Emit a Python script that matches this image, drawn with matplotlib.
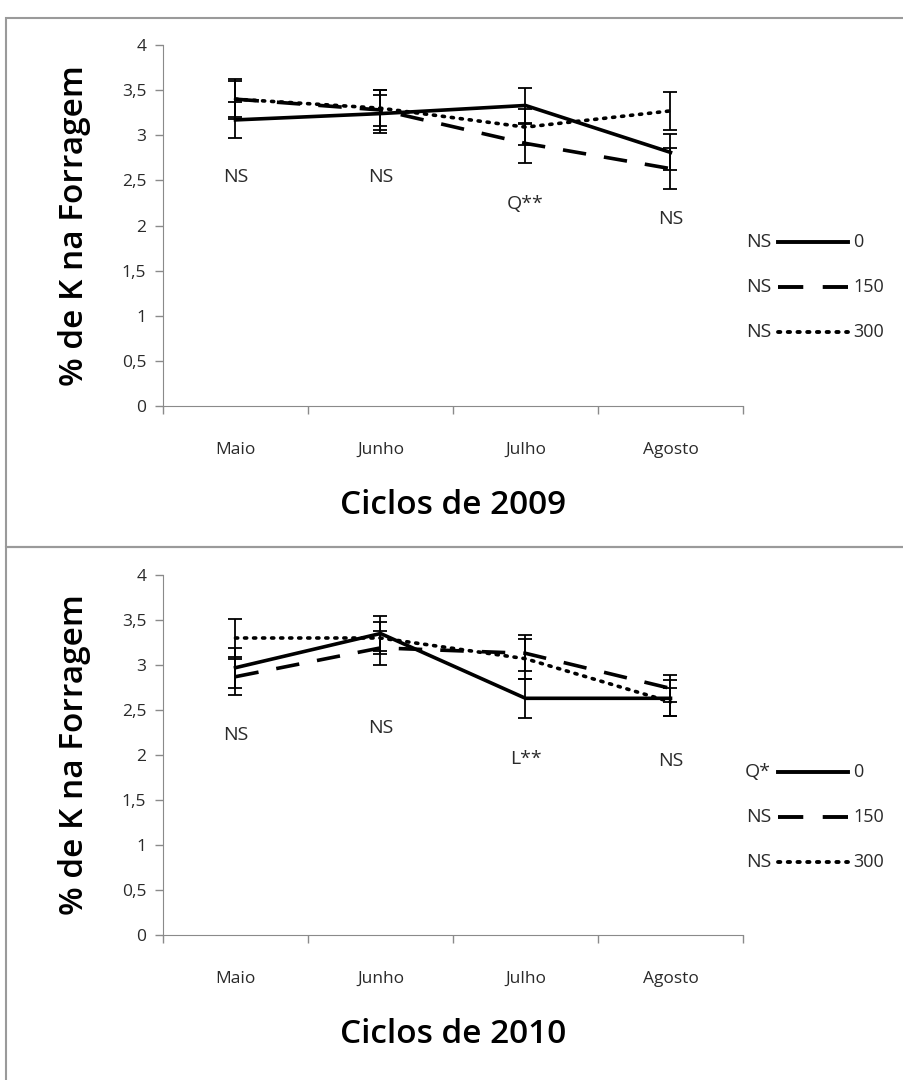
import matplotlib
matplotlib.use("Agg")
import matplotlib.pyplot as plt
from matplotlib.lines import Line2D
from matplotlib.patches import Rectangle

plt.rcParams['font.family'] = ['Open Sans', 'DejaVu Sans']

# categories (months)
meses = ['Maio', 'Junho', 'Julho', 'Agosto']
doses = ['0', '150', '300']

# 2009 cycle values (% K) and error bars
k2009_0 = [3.17, 3.24, 3.33, 2.81]
k2009_150 = [3.40, 3.28, 2.91, 2.63]
k2009_300 = [3.40, 3.30, 3.09, 3.27]
err2009_0 = [0.20, 0.21, 0.19, 0.20]
err2009_150 = [0.22, 0.22, 0.22, 0.23]
err2009_300 = [0.20, 0.20, 0.20, 0.21]
sig2009 = ['NS', 'NS', 'Q**', 'NS']
sig2009_y = [2.54, 2.54, 2.24, 2.07]
leg2009 = ['NS', 'NS', 'NS']

# 2010 cycle values (% K) and error bars
k2010_0 = [2.97, 3.35, 2.63, 2.63]
k2010_150 = [2.87, 3.19, 3.13, 2.74]
k2010_300 = [3.30, 3.30, 3.07, 2.59]
err2010_0 = [0.22, 0.19, 0.22, 0.20]
err2010_150 = [0.20, 0.19, 0.20, 0.15]
err2010_300 = [0.21, 0.18, 0.22, 0.16]
sig2010 = ['NS', 'NS', 'L**', 'NS']
sig2010_y = [2.22, 2.30, 1.96, 1.93]
leg2010 = ['Q*', 'NS', 'NS']

W, H = 904, 1080
fig = plt.figure(figsize=(W / 100, H / 100), dpi=100)

# panel frames
for (y0, y1) in [(18, 547), (547, 1085)]:
    fig.patches.append(Rectangle((6 / W, 1 - y1 / H), (W + 10 - 6) / W, (y1 - y0) / H,
                                 transform=fig.transFigure, fill=False,
                                 edgecolor='#9a9a9a', linewidth=1.5))

styles = [
    dict(linestyle='-'),
    dict(linestyle=(0, (6.5, 5.0))),
    dict(linestyle=(0, (0.6, 1.9)), dash_capstyle='round'),
]
txt = '#2a2a2a'


def draw_panel(top_px, bottom_px, series, errs, sig, sig_y, leg_sig, year, leg_top):
    ax = fig.add_axes([163 / W, 1 - bottom_px / H, (743 - 163) / W, (bottom_px - top_px) / H])
    x = range(len(meses))
    for vals, err, st in zip(series, errs, styles):
        ax.errorbar(x, vals, yerr=err, color='black', linewidth=2.6, elinewidth=1.3,
                    capsize=5, capthick=1.3, **st)
    for xi, s, yy in zip(x, sig, sig_y):
        ax.text(xi, yy, s, ha='center', va='center', fontsize=14, color=txt)
    ax.set_xlim(-0.5, 3.5)
    ax.set_ylim(0, 4)
    ax.set_yticks([0, 0.5, 1, 1.5, 2, 2.5, 3, 3.5, 4])
    ax.set_yticklabels(['0', '0,5', '1', '1,5', '2', '2,5', '3', '3,5', '4'],
                       fontsize=12.5, color=txt)
    ax.set_xticks([-0.5, 0.5, 1.5, 2.5, 3.5])
    ax.set_xticklabels([])
    ax.set_xticks(list(x), minor=True)
    ax.set_xticklabels(meses, minor=True, fontsize=12.5, color=txt)
    ax.tick_params(axis='x', which='minor', length=0, pad=26)
    ax.tick_params(axis='both', which='major', length=6, color='#8a8a8a', width=1)
    ax.tick_params(axis='y', pad=6)
    for side in ['top', 'right']:
        ax.spines[side].set_visible(False)
    for side in ['left', 'bottom']:
        ax.spines[side].set_color('#8a8a8a')
    ax.set_ylabel('% de K na Forragem', fontsize=24, fontweight='semibold', labelpad=22)
    ax.set_xlabel('Ciclos de ' + year, fontsize=24, fontweight='semibold', labelpad=22)

    # custom legend at right
    for i, (s, lab, st) in enumerate(zip(leg_sig, doses, styles)):
        yp = 1 - (leg_top + 45 * i) / H
        fig.text(771 / W, yp, s, ha='right', va='center', fontsize=14, color=txt)
        fig.add_artist(Line2D([778 / W, 848 / W], [yp, yp], transform=fig.transFigure,
                              color='black', linewidth=2.8, **st))
        fig.text(853 / W, yp, lab, ha='left', va='center', fontsize=13, color=txt)
    return ax


draw_panel(45, 406, [k2009_0, k2009_150, k2009_300],
           [err2009_0, err2009_150, err2009_300], sig2009, sig2009_y, leg2009, '2009', 242)
draw_panel(575, 935, [k2010_0, k2010_150, k2010_300],
           [err2010_0, err2010_150, err2010_300], sig2010, sig2010_y, leg2010, '2010', 772)

fig.savefig('out.png', dpi=100)
